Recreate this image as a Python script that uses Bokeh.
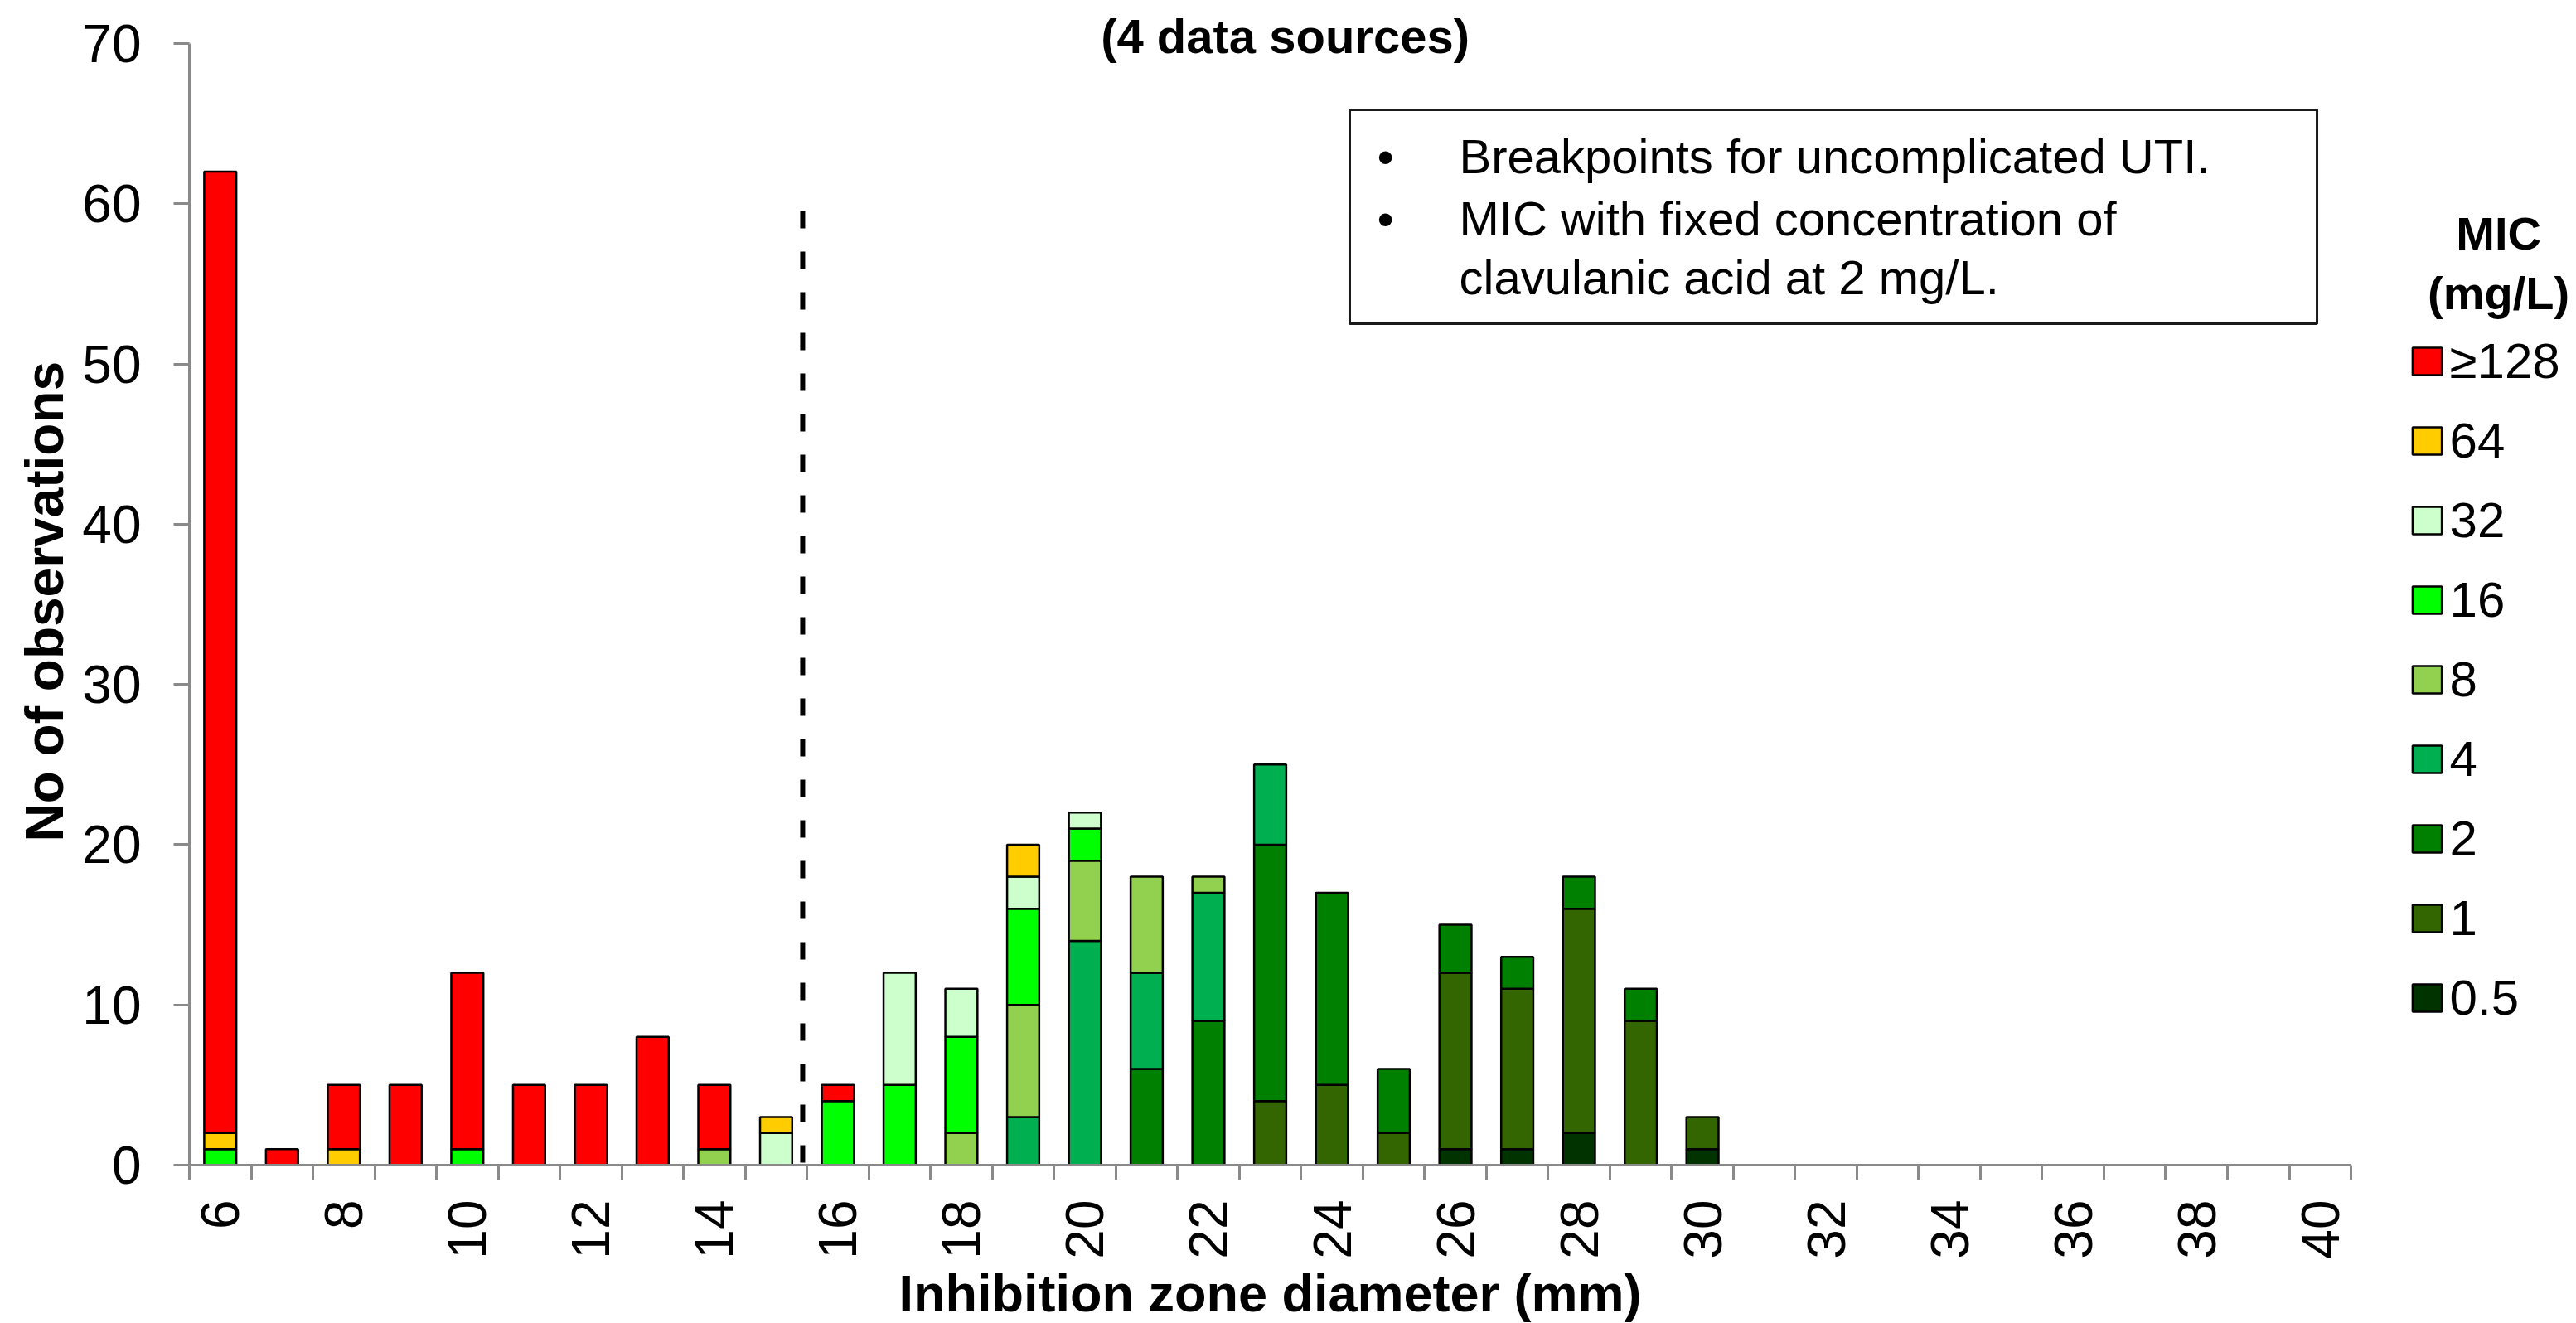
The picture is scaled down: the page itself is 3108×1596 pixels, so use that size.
import math
from bokeh.plotting import figure
from bokeh.models import (Range1d, FixedTicker, Legend, LegendItem, Label, BoxAnnotation)
from bokeh.core.properties import value
from bokeh.embed import file_html
from bokeh.resources import INLINE

# ---------------- data ----------------
diameters = list(range(6, 41))  # inhibition zone diameter (mm)

# MIC classes, stacked bottom -> top
mic_labels = ["0.5", "1", "2", "4", "8", "16", "32", "64", "\u2265128"]
mic_colors = ["#003300", "#336600", "#008000", "#00B050", "#92D050",
              "#00FF00", "#CCFFCC", "#FFCC00", "#FF0000"]

#          6 7 8 9 10 11 12 13 14 15 16 17 18 19 20 21 22 23 24 25 26 27 28 29 30 31 32 33 34 35 36 37 38 39 40
mic_0_5 = [0, 0, 0, 0, 0, 0, 0, 0, 0, 0, 0, 0, 0, 0, 0, 0, 0, 0, 0, 0, 1, 1, 2, 0, 1, 0, 0, 0, 0, 0, 0, 0, 0, 0, 0]
mic_1   = [0, 0, 0, 0, 0, 0, 0, 0, 0, 0, 0, 0, 0, 0, 0, 0, 0, 4, 5, 2, 11, 10, 14, 9, 2, 0, 0, 0, 0, 0, 0, 0, 0, 0, 0]
mic_2   = [0, 0, 0, 0, 0, 0, 0, 0, 0, 0, 0, 0, 0, 0, 0, 6, 9, 16, 12, 4, 3, 2, 2, 2, 0, 0, 0, 0, 0, 0, 0, 0, 0, 0, 0]
mic_4   = [0, 0, 0, 0, 0, 0, 0, 0, 0, 0, 0, 0, 0, 3, 14, 6, 8, 5, 0, 0, 0, 0, 0, 0, 0, 0, 0, 0, 0, 0, 0, 0, 0, 0, 0]
mic_8   = [0, 0, 0, 0, 0, 0, 0, 0, 1, 0, 0, 0, 2, 7, 5, 6, 1, 0, 0, 0, 0, 0, 0, 0, 0, 0, 0, 0, 0, 0, 0, 0, 0, 0, 0]
mic_16  = [1, 0, 0, 0, 1, 0, 0, 0, 0, 0, 4, 5, 6, 6, 2, 0, 0, 0, 0, 0, 0, 0, 0, 0, 0, 0, 0, 0, 0, 0, 0, 0, 0, 0, 0]
mic_32  = [0, 0, 0, 0, 0, 0, 0, 0, 0, 2, 0, 7, 3, 2, 1, 0, 0, 0, 0, 0, 0, 0, 0, 0, 0, 0, 0, 0, 0, 0, 0, 0, 0, 0, 0]
mic_64  = [1, 0, 1, 0, 0, 0, 0, 0, 0, 1, 0, 0, 0, 2, 0, 0, 0, 0, 0, 0, 0, 0, 0, 0, 0, 0, 0, 0, 0, 0, 0, 0, 0, 0, 0]
mic_128 = [60, 1, 4, 5, 11, 5, 5, 8, 4, 0, 1, 0, 0, 0, 0, 0, 0, 0, 0, 0, 0, 0, 0, 0, 0, 0, 0, 0, 0, 0, 0, 0, 0, 0, 0]
series = [mic_0_5, mic_1, mic_2, mic_4, mic_8, mic_16, mic_32, mic_64, mic_128]

x_ticks = list(range(6, 41, 2))
y_ticks = list(range(0, 71, 10))

breakpoint_mm = 15.43      # dashed breakpoint line
breakpoint_y0 = 0.16
breakpoint_top = 59.55

title_text = "(4 data sources)"
note_lines = ["Breakpoints for uncomplicated UTI.",
              "MIC with fixed concentration of",
              "clavulanic acid at 2 mg/L."]
note_bullets = [True, True, False]

# ---------------- figure ----------------
FONT = "Liberation Sans"
AXIS_GRAY = "#8a8a8a"
X0, X1 = 5.5, 40.5

p = figure(width=3108, height=1596,
           x_range=Range1d(2.4401, 44.150), y_range=Range1d(-9.881, 72.685),
           output_backend="svg", toolbar_location=None,
           min_border_left=0, min_border_right=0,
           min_border_top=0, min_border_bottom=0)
p.xgrid.visible = False
p.ygrid.visible = False
p.outline_line_color = None
p.background_fill_color = "white"
p.border_fill_color = "white"

# stacked bars
renderers = []
bottom = [0] * len(diameters)
for vals, col in zip(series, mic_colors):
    xs, b0, t0 = [], [], []
    for i, v in enumerate(vals):
        if v > 0:
            xs.append(diameters[i])
            b0.append(bottom[i])
            t0.append(bottom[i] + v)
    bottom = [b + v for b, v in zip(bottom, vals)]
    r = p.vbar(x=xs, bottom=b0, top=t0, width=0.52,
               fill_color=col, line_color="black", line_width=2.5)
    renderers.append(r)

# breakpoint line
p.segment(x0=[breakpoint_mm], y0=[breakpoint_y0], x1=[breakpoint_mm], y1=[breakpoint_top],
          line_color="black", line_width=6, line_dash="21 28")

# x axis
xa = p.xaxis[0]
xa.fixed_location = 0
xa.ticker = FixedTicker(ticks=x_ticks, minor_ticks=[d - 0.5 for d in diameters] + [diameters[-1] + 0.5])
xa.bounds = (X0, X1)
xa.axis_line_color = AXIS_GRAY
xa.axis_line_width = 3
xa.major_tick_line_color = None
xa.major_tick_out = 18
xa.major_tick_in = 0
xa.minor_tick_line_color = AXIS_GRAY
xa.minor_tick_line_width = 3
xa.minor_tick_out = 18
xa.minor_tick_in = 0
xa.major_label_orientation = math.pi / 2
xa.major_label_standoff = 24
xa.major_label_text_font = FONT
xa.major_label_text_font_size = "64px"
xa.major_label_text_color = "black"

# y axis
ya = p.yaxis[0]
ya.fixed_location = X0
ya.ticker = FixedTicker(ticks=y_ticks)
ya.bounds = (0, 70)
ya.axis_line_color = AXIS_GRAY
ya.axis_line_width = 3
ya.major_tick_line_color = AXIS_GRAY
ya.major_tick_line_width = 3
ya.major_tick_out = 19
ya.major_tick_in = 0
ya.minor_tick_line_color = None
ya.major_label_standoff = 39
ya.major_label_text_font = FONT
ya.major_label_text_font_size = "64px"
ya.major_label_text_color = "black"


def add_text(x, y, text, size, bold=False, align="left", angle=0.0):
    p.add_layout(Label(x=x, y=y, text=text, text_font=FONT,
                       text_font_style="bold" if bold else "normal",
                       text_font_size=size, text_align=align, text_baseline="middle",
                       text_color="black", angle=angle))


# axis titles
add_text(23.0, -7.99, "Inhibition zone diameter (mm)", "63px", bold=True, align="center")
add_text(3.158, 35.17, "No of observations", "64px", bold=True, align="center", angle=math.pi / 2)

# chart title (visible part)
add_text(23.242, 70.486, title_text, "58px", bold=True, align="center")

# note box
p.add_layout(BoxAnnotation(left=24.288, right=39.950, bottom=52.51, top=65.86,
                           fill_alpha=0, line_color="#1a1a1a", line_alpha=1.0, line_width=3))
note_y = [62.95, 59.10, 55.40]
for txt, has_b, yy in zip(note_lines, note_bullets, note_y):
    if has_b:
        add_text(24.866, yy, "\u2022", "58px", align="center")
    add_text(26.060, yy, txt, "58px")

# legend title
add_text(42.89, 58.148, "MIC", "56px", bold=True, align="center")
add_text(42.89, 54.424, "(mg/L)", "56px", bold=True, align="center")

# legend
items = [LegendItem(label=value(lab), renderers=[r])
         for lab, r in reversed(list(zip(mic_labels, renderers)))]
legend = Legend(items=items, location=(2905.6, 358.5),
                glyph_width=44, glyph_height=41, label_standoff=6, spacing=27,
                padding=0, margin=0, border_line_color=None, background_fill_alpha=0,
                label_text_font=FONT, label_text_font_size="60px", label_text_color="black")
p.add_layout(legend)

open("out.html", "w").write(file_html(p, INLINE))
